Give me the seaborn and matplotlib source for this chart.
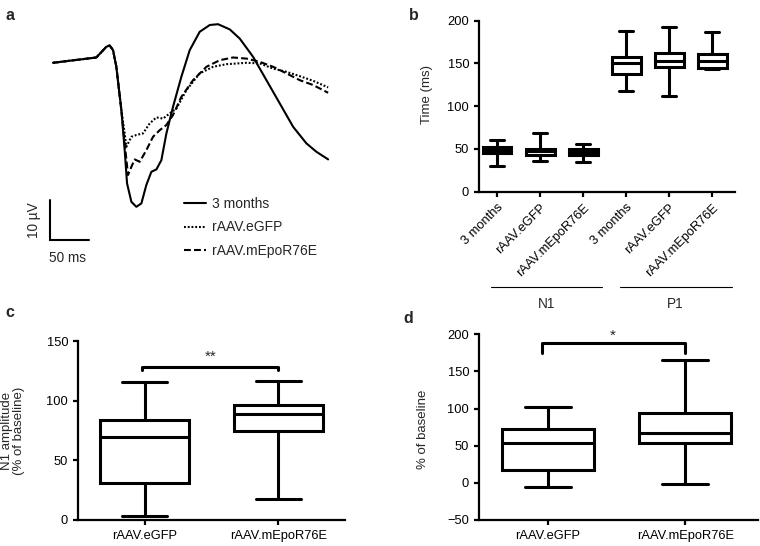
import numpy as np
import pandas as pd
import matplotlib
matplotlib.use('Agg')
import matplotlib.pyplot as plt
import matplotlib.transforms as mtransforms
import seaborn as sns

sns.set_style('ticks')
plt.rcParams['font.family'] = ['Liberation Sans', 'DejaVu Sans']
plt.rcParams['axes.linewidth'] = 1.6
plt.rcParams['xtick.major.width'] = 1.6
plt.rcParams['ytick.major.width'] = 1.6
plt.rcParams['xtick.major.size'] = 3.6
plt.rcParams['ytick.major.size'] = 3.6
plt.rcParams['xtick.labelsize'] = 9.3
plt.rcParams['ytick.labelsize'] = 9.3
plt.rcParams['axes.edgecolor'] = 'black'
plt.rcParams['xtick.color'] = 'black'
plt.rcParams['ytick.color'] = 'black'

# panel a: averaged VEP traces (time in ms, amplitude in uV)
t_3mo = [0, 55.1, 67.8, 72.0, 76.3, 80.5, 86.9, 91.1, 94.1, 99.6, 105.9, 112.3, 118.6, 125.0,
         131.4, 137.7, 144.1, 152.5, 163.1, 173.7, 186.4, 199.2, 209.7, 224.6, 237.3, 254.2,
         271.2, 288.1, 305.1, 322.0, 334.7, 349.6]
v_3mo = [-0.25, 1.08, 3.75, 4.08, 2.92, -1.25, -12.1, -22.1, -30.4, -35.0, -36.25, -35.4, -30.8,
         -27.5, -26.9, -24.6, -17.9, -11.25, -3.75, 2.9, 7.5, 9.2, 9.4, 8.1, 5.8, 1.25, -4.6,
         -10.4, -16.25, -20.4, -22.5, -24.4]
t_egfp = [0, 55.1, 67.8, 72.0, 76.3, 80.5, 86.9, 91.1, 93.2, 99.6, 105.9, 114.4, 122.9, 131.4,
          139.8, 148.3, 156.8, 169.5, 186.4, 203.4, 220.3, 245.8, 262.7, 279.7, 296.6, 313.6,
          330.5, 349.6]
v_egfp = [-0.25, 1.08, 3.75, 4.08, 2.92, -1.25, -12.1, -17.9, -21.25, -18.75, -18.3, -17.9,
          -15.4, -13.9, -14.2, -12.9, -11.7, -7.1, -2.9, -1.25, -0.6, -0.25, -0.4, -1.7, -2.5,
          -3.6, -4.75, -6.4]
t_mepo = [0, 55.1, 67.8, 72.0, 76.3, 80.5, 86.9, 91.1, 95.3, 99.6, 103.8, 110.2, 118.6, 127.1,
          135.6, 144.1, 152.5, 163.1, 177.9, 194.9, 211.9, 228.8, 245.8, 262.7, 279.7, 296.6,
          313.6, 330.5, 349.6]
v_mepo = [-0.25, 1.08, 3.75, 4.08, 2.92, -1.25, -12.1, -20.4, -28.3, -26.25, -24.4, -25.0,
          -22.1, -18.75, -17.1, -15.8, -13.3, -8.75, -4.6, -1.25, 0.4, 1.08, 0.8, 0.0, -1.25,
          -2.9, -4.6, -5.8, -7.75]
trace_names = ['3 months', 'rAAV.eGFP', 'rAAV.mEpoR76E']

# panel b: latencies, five-number summaries (min, q1, median, q3, max)
b_conditions = ['3 months', 'rAAV.eGFP', 'rAAV.mEpoR76E']
b_peaks = ['N1', 'P1']
n1_3mo = [30, 45.5, 49, 52.5, 60]
n1_egfp = [36, 43, 47.5, 50.5, 69]
n1_mepo = [34.5, 43, 46.5, 49.5, 56]
p1_3mo = [118, 138, 150, 158, 188]
p1_egfp = [112, 146, 153, 162, 193]
p1_mepo = [143, 145, 153, 161, 187]

# panel c: N1 amplitude (% of baseline)
cd_conditions = ['rAAV.eGFP', 'rAAV.mEpoR76E']
c_egfp = [3, 30.5, 69.5, 83.5, 116]
c_mepo = [17, 75, 88.5, 96.5, 116.5]
c_sig = '**'

# panel d: % of baseline
d_egfp = [-5, 17.5, 54, 72.5, 102]
d_mepo = [-2, 53, 66.5, 94, 165]
d_sig = '*'

W, H = 760, 546
fig = plt.figure(figsize=(W / 100, H / 100), dpi=100)


def px_axes(left, top, right, bottom):
    return fig.add_axes([left / W, 1 - bottom / H, (right - left) / W, (bottom - top) / H])


box_kw = dict(color='white', linecolor='black', linewidth=2.2, width=0.67,
              whis=(0, 100), showfliers=False)

# ---------- a ----------
ax_a = px_axes(20, 15, 345, 265)
sns.lineplot(x=t_3mo, y=v_3mo, ax=ax_a, color='black', lw=1.5, linestyle='-')
sns.lineplot(x=t_egfp, y=v_egfp, ax=ax_a, color='black', lw=1.5)
sns.lineplot(x=t_mepo, y=v_mepo, ax=ax_a, color='black', lw=1.5)
ax_a.lines[1].set_dashes((0.9, 0.9))
ax_a.lines[2].set_dashes((3.3, 1.5))
ax_a.set_xlim(-41.9, 371)
ax_a.set_ylim(-50.8, 11.7)
ax_a.axis('off')
leg = ax_a.legend(ax_a.lines[:3], trace_names, loc='upper left',
                  bbox_to_anchor=(184 / W, 1 - 197 / H), bbox_transform=fig.transFigure,
                  frameon=False, fontsize=10, handlelength=1.6, handletextpad=0.45,
                  labelspacing=0.68, borderpad=0, borderaxespad=0)
# scale bar
ax_a.plot([-3.8, -3.8, 46.2], [-34.6, -44.6, -44.6], color='black', lw=1.5,
          solid_joinstyle='miter', clip_on=False)
ax_a.text(-24, -39.6, '10 µV', rotation=90, ha='center', va='center', fontsize=9.8)
ax_a.text(18, -47.3, '50 ms', ha='center', va='top', fontsize=9.8)

# ---------- b ----------
ax_b = px_axes(479, 20.7, 735, 191.7)
b_keys = [f'{p} {c}' for p in b_peaks for c in b_conditions]
b_vals = [n1_3mo, n1_egfp, n1_mepo, p1_3mo, p1_egfp, p1_mepo]
df_b = pd.DataFrame({'group': np.repeat(b_keys, 5), 'value': np.concatenate(b_vals)})
sns.boxplot(data=df_b, x='group', y='value', order=b_keys, ax=ax_b, **box_kw)
ax_b.set_xlim(-0.42, 5.53)
ax_b.set_ylim(0, 200)
ax_b.set_yticks([0, 50, 100, 150, 200])
ax_b.set_xticks(range(6))
ax_b.set_xticklabels(b_conditions * 2, rotation=45, ha='right', rotation_mode='anchor')
ax_b.set_xlabel('')
ax_b.set_ylabel('Time (ms)', fontsize=9.5)
ax_b.yaxis.set_label_coords(-0.18, 0.57)
sns.despine(ax=ax_b)
trans_b = mtransforms.blended_transform_factory(ax_b.transData, ax_b.transAxes)
for i, peak in enumerate(b_peaks):
    x0 = 3 * i - 0.15
    x1 = 3 * i + 2.45
    ax_b.plot([x0, x1], [-0.557, -0.557], color='black', lw=0.8, transform=trans_b, clip_on=False)
    ax_b.text((x0 + x1) / 2, -0.615, peak, transform=trans_b, ha='center', va='top', fontsize=9.8)

# ---------- c ----------
ax_c = px_axes(78, 341.3, 345, 519.7)
df_c = pd.DataFrame({'group': np.repeat(cd_conditions, 5), 'value': c_egfp + c_mepo})
sns.boxplot(data=df_c, x='group', y='value', order=cd_conditions, ax=ax_c, **box_kw)
ax_c.set_xlim(-0.5, 1.5)
ax_c.set_ylim(0, 150)
ax_c.set_yticks([0, 50, 100, 150])
ax_c.set_xlabel('')
ax_c.set_ylabel('N1 amplitude\n(% of baseline)', fontsize=9.5, linespacing=0.95)
ax_c.yaxis.set_label_coords(-0.2, 0.5)
sns.despine(ax=ax_c)
ax_c.plot([-0.02, -0.02, 1.0, 1.0], [125.5, 128.7, 128.7, 125.5], color='black', lw=2.2,
          clip_on=False)
ax_c.text(0.49, 131.5, c_sig, ha='center', va='bottom', fontsize=11)

# ---------- d ----------
ax_d = px_axes(479, 334.3, 758, 520)
df_d = pd.DataFrame({'group': np.repeat(cd_conditions, 5), 'value': d_egfp + d_mepo})
sns.boxplot(data=df_d, x='group', y='value', order=cd_conditions, ax=ax_d, **box_kw)
ax_d.set_xlim(-0.5, 1.53)
ax_d.set_ylim(-50, 200)
ax_d.set_yticks([-50, 0, 50, 100, 150, 200])
ax_d.set_yticklabels(['\u221250', '0', '50', '100', '150', '200'])
ax_d.set_xlabel('')
ax_d.set_ylabel('% of baseline', fontsize=9.5)
ax_d.yaxis.set_label_coords(-0.18, 0.49)
sns.despine(ax=ax_d)
ax_d.plot([-0.04, -0.04, 1.0, 1.0], [174.4, 187.9, 187.9, 174.4], color='black', lw=2.2,
          clip_on=False)
ax_d.text(0.47, 189, d_sig, ha='center', va='bottom', fontsize=11)

# panel letters
for letter, (px, py) in zip('abcd', [(5, 8), (409, 8), (5, 305), (403, 311)]):
    fig.text(px / W, 1 - py / H, letter, fontsize=11.5, fontweight='bold', ha='left', va='top')

fig.savefig('out.png', dpi=100)
